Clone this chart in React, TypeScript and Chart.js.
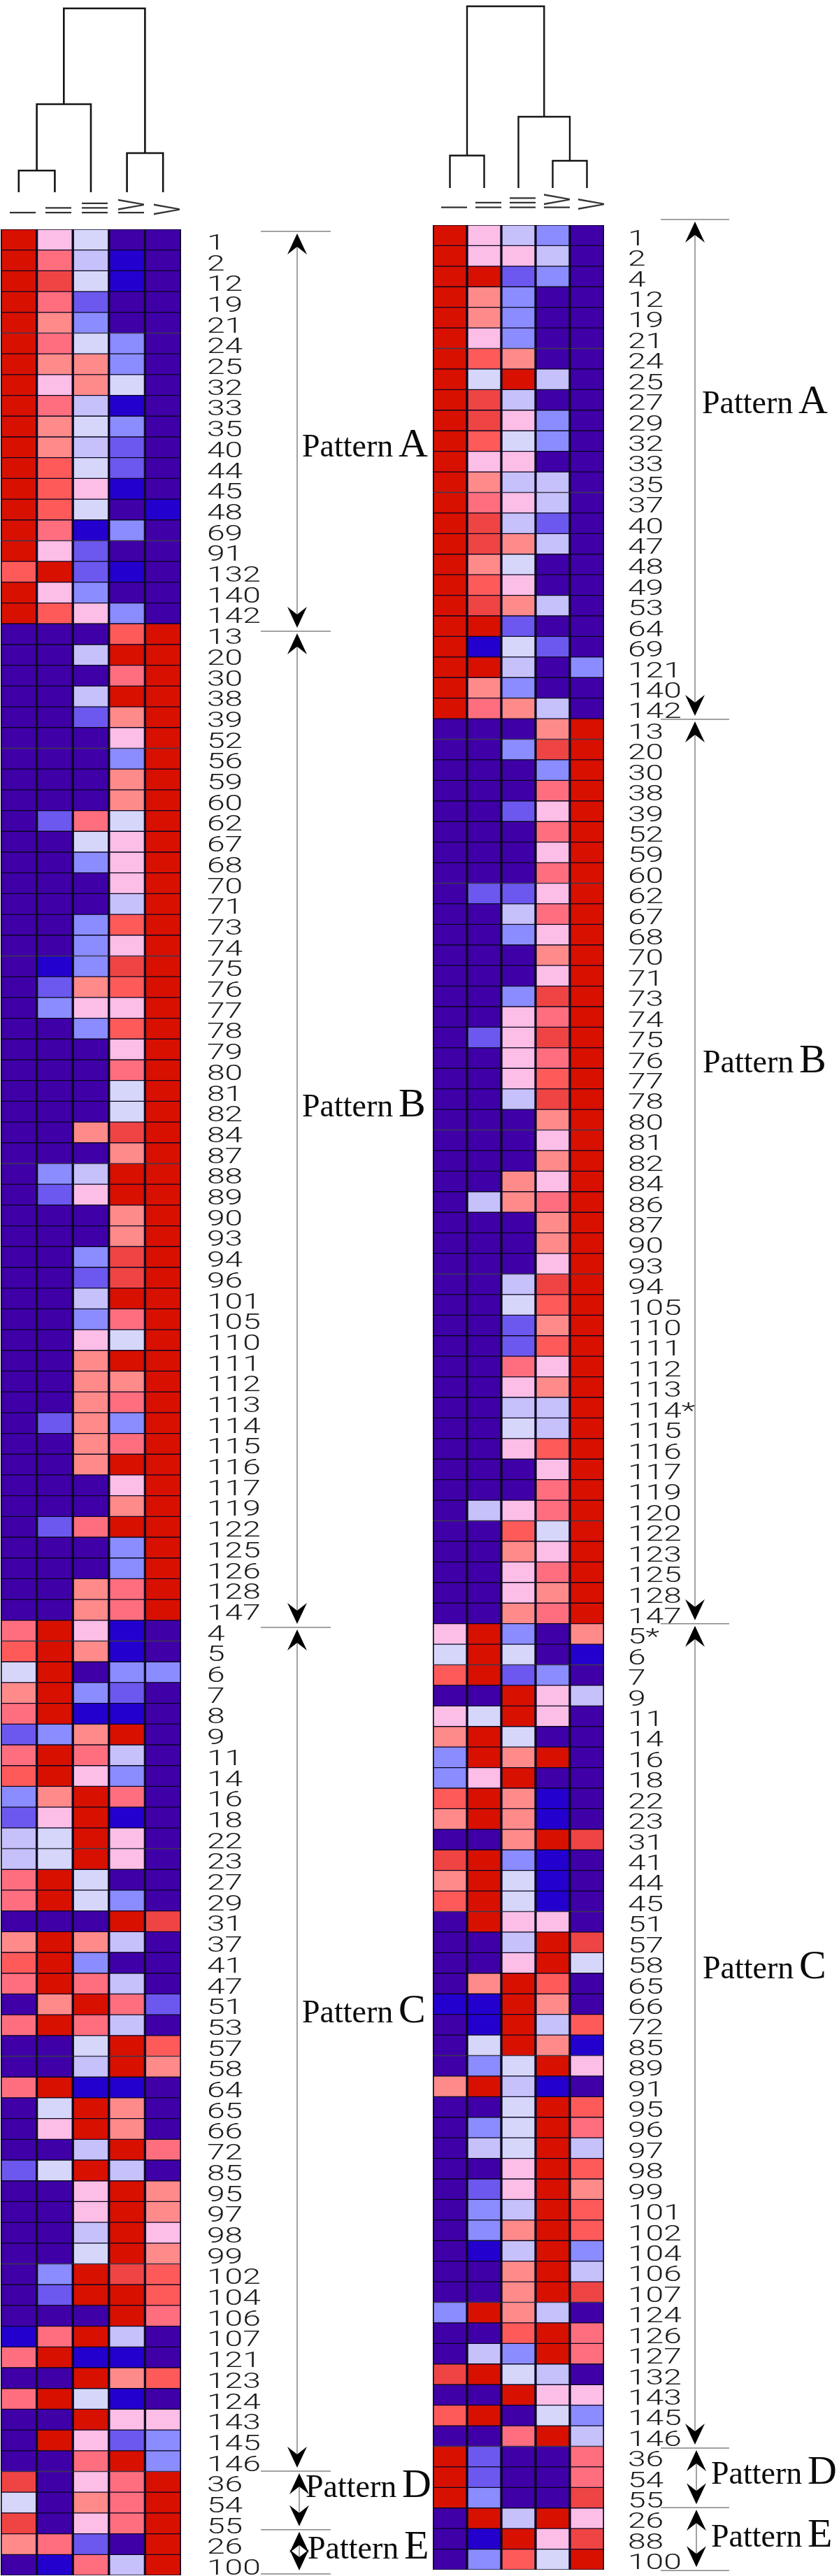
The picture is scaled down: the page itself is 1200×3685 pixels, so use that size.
import React, { useEffect, useRef } from "react";
import { Chart, registerables } from "chart.js";

Chart.register(...registerables);

// colour levels of the heat map, low to high
const P = 0, B = 1, M = 2, L = 3, V = 4, W = 5, K = 6, S = 7, R = 8, O = 9, T = 10, D = 11;
const palette = ["#3f00a8", "#2400cf", "#6c58ee", "#8a8cff", "#c6c0fb", "#d6d6fb", "#fcbde6", "#ff8a8a", "#ff6e7e", "#ff5a5a", "#ef4444", "#d81000"];
const columns = ["I", "II", "III", "IV", "V"];

const leftLabels = ["1","2","12","19","21","24","25","32","33","35","40","44","45","48","69","91","132","140","142",
  "13","20","30","38","39","52","56","59","60","62","67","68","70","71","73","74","75","76","77","78","79","80","81","82","84","87","88","89","90","93","94","96","101","105","110","111","112","113","114","115","116","117","119","122","125","126","128","147",
  "4","5","6","7","8","9","11","14","16","18","22","23","27","29","31","37","41","47","51","53","57","58","64","65","66","72","85","95","97","98","99","102","104","106","107","121","123","124","143","145","146",
  "36","54","55","26","100"];

const leftLevels = [
  [D,K,W,P,P],[D,R,V,B,P],[D,T,W,B,P],[D,R,M,P,P],[D,S,L,P,P],[D,R,W,L,P],[D,S,S,L,P],[D,K,S,W,P],[D,R,V,B,P],[D,S,W,L,P],
  [D,S,V,M,P],[D,O,W,M,P],[D,O,K,B,P],[D,O,W,P,B],[D,R,B,L,P],[D,K,M,P,P],[O,D,M,B,P],[D,K,L,P,P],[D,O,K,L,P],
  [P,P,P,O,D],[P,P,V,D,D],[P,P,P,R,D],[P,P,V,D,D],[P,P,M,S,D],[P,P,P,K,D],[P,P,P,L,D],[P,P,P,S,D],[P,P,P,S,D],[P,M,R,W,D],
  [P,P,W,K,D],[P,P,L,K,D],[P,P,P,K,D],[P,P,P,V,D],[P,P,L,O,D],[P,P,L,K,D],[P,B,L,T,D],[P,M,S,O,D],[P,L,K,K,D],[P,P,L,O,D],
  [P,P,P,K,D],[P,P,P,R,D],[P,P,P,W,D],[P,P,P,W,D],[P,P,S,T,D],[P,P,P,S,D],[P,L,V,D,D],[P,M,K,D,D],[P,P,P,S,D],[P,P,P,S,D],
  [P,P,L,T,D],[P,P,M,T,D],[P,P,V,D,D],[P,P,L,R,D],[P,P,K,W,D],[P,P,S,D,D],[P,P,S,S,D],[P,P,S,R,D],[P,M,S,L,D],[P,P,S,R,D],
  [P,P,S,D,D],[P,P,P,K,D],[P,P,P,S,D],[P,M,R,D,D],[P,P,P,L,D],[P,P,P,L,D],[P,P,S,R,D],[P,P,S,R,D],
  [R,D,K,B,P],[O,D,S,B,P],[W,D,P,L,L],[S,D,L,M,P],[R,D,B,B,P],[M,L,S,D,P],[R,D,R,V,P],[O,D,K,L,P],[L,S,D,R,P],[M,K,D,B,P],
  [V,W,D,K,P],[V,W,D,K,P],[R,D,W,P,P],[R,D,W,L,P],[P,P,P,D,T],[S,D,S,V,P],[O,D,L,P,P],[R,D,R,V,P],[P,S,D,R,M],[R,D,R,V,P],
  [P,P,W,D,O],[P,P,V,D,S],[R,D,B,B,P],[P,W,D,S,P],[P,K,D,S,P],[P,P,V,D,R],[M,W,D,V,P],[P,P,K,D,S],[P,P,K,D,S],[P,P,V,D,K],
  [P,P,W,D,S],[P,L,D,T,O],[P,M,D,D,O],[P,P,P,D,R],[B,R,D,V,P],[R,D,B,B,P],[P,P,D,S,O],[R,D,W,B,P],[P,P,D,K,K],[P,D,K,M,L],[P,P,R,D,L],
  [T,P,K,R,D],[W,P,S,R,D],[T,P,K,R,D],[S,R,M,P,D],[P,B,R,V,D],
];

const rightLabels = ["1","2","4","12","19","21","24","25","27","29","32","33","35","37","40","47","48","49","53","64","69","121","140","142",
  "13","20","30","38","39","52","59","60","62","67","68","70","71","73","74","75","76","77","78","80","81","82","84","86","87","90","93","94","105","110","111","112","113","114*","115","116","117","119","120","122","123","125","128","147",
  "5*","6","7","9","11","14","16","18","22","23","31","41","44","45","51","57","58","65","66","72","85","89","91","95","96","97","98","99","101","102","104","106","107","124","126","127","132","143","145","146",
  "36","54","55","26","88","100"];

const rightLevels = [
  [D,K,V,L,P],[D,K,K,V,P],[D,D,M,L,P],[D,S,L,P,P],[D,S,L,P,P],[D,K,L,P,P],[D,O,S,P,P],[D,W,D,V,P],[D,T,V,P,P],[D,T,K,L,P],
  [D,O,W,L,P],[D,K,K,P,P],[D,S,V,V,P],[D,R,K,V,P],[D,T,V,M,P],[D,T,S,V,P],[D,S,W,P,P],[D,O,K,P,P],[D,T,S,V,P],[D,D,M,P,P],
  [D,B,W,M,P],[D,D,V,P,L],[D,S,L,P,P],[D,R,S,V,P],
  [P,P,P,S,D],[P,P,L,T,D],[P,P,P,L,D],[P,P,P,R,D],[P,P,M,K,D],[P,P,P,R,D],[P,P,P,K,D],[P,P,P,R,D],[P,M,M,K,D],[P,P,V,R,D],
  [P,P,L,K,D],[P,P,P,S,D],[P,P,P,K,D],[P,P,L,T,D],[P,P,K,R,D],[P,M,K,T,D],[P,P,K,R,D],[P,P,K,O,D],[P,P,V,T,D],[P,P,P,S,D],
  [P,P,P,K,D],[P,P,P,S,D],[P,P,S,K,D],[P,V,S,R,D],[P,P,P,S,D],[P,P,P,S,D],[P,P,P,K,D],[P,P,V,T,D],[P,P,W,O,D],[P,P,M,S,D],
  [P,P,M,O,D],[P,P,R,K,D],[P,P,K,S,D],[P,P,V,V,D],[P,P,W,V,D],[P,P,K,O,D],[P,P,P,K,D],[P,P,P,R,D],[P,V,K,R,D],[P,P,O,W,D],
  [P,P,S,K,D],[P,P,K,R,D],[P,P,K,S,D],[P,P,S,R,D],
  [K,D,L,P,S],[W,D,W,P,B],[O,D,M,L,P],[P,P,D,K,V],[K,W,D,K,P],[S,D,W,P,P],[L,D,S,D,P],[L,K,D,P,P],[O,D,S,B,P],[S,D,S,B,P],
  [P,P,S,D,T],[T,D,L,B,P],[S,D,W,B,P],[O,D,W,B,P],[P,D,K,K,P],[P,P,V,D,T],[P,P,K,D,W],[P,S,D,O,P],[B,B,D,S,P],[P,B,D,V,O],
  [P,W,D,S,B],[P,L,W,D,K],[S,D,V,B,P],[P,P,W,D,O],[P,L,W,D,R],[P,V,W,D,V],[P,P,K,D,O],[P,M,K,D,S],[P,L,V,D,O],[P,L,S,D,O],
  [P,B,V,D,L],[P,P,S,D,V],[P,P,S,D,T],[L,D,S,V,P],[P,P,O,D,R],[P,V,L,D,R],[T,D,W,V,P],[P,P,D,K,K],[O,D,P,W,L],[P,P,R,D,V],
  [D,M,P,P,R],[D,M,P,P,R],[D,L,P,P,T],[P,D,V,D,K],[P,B,D,K,T],[P,L,O,W,D],
];

// dendrogram merges: child positions in column units, child heights, merge height
const leftMergeXa = [0, 0.5, 3, 1.25];
const leftMergeXb = [1, 2, 4, 3.5];
const leftMergeHa = [0, 31, 0, 126];
const leftMergeHb = [0, 0, 0, 56];
const leftMergeH = [31, 126, 56, 263];
const rightMergeXa = [0, 3, 2, 0.5];
const rightMergeXb = [1, 4, 3.5, 2.75];
const rightMergeHa = [0, 0, 0, 46.5];
const rightMergeHb = [0, 0, 39, 102];
const rightMergeH = [46.5, 39, 102, 260];

const patternNames = ["A", "B", "C", "D", "E"];
// pattern bracket edges, in rows from the top of each heat map
const leftEdges = [0.1, 19.36, 67.34, 107.98, 110.8, 112.93];
const rightEdges = [-0.27, 24.03, 68.0, 108.09, 110.98, 114.04];

type Side = {
  labels: string[]; levels: number[][];
  xa: number[]; xb: number[]; ha: number[]; hb: number[]; hm: number[];
  edges: number[];
  canvasLeft: number; canvasWidth: number;
  pad: { left: number; right: number; top: number; bottom: number };
  dPad: { left: number; right: number; top: number; bottom: number };
  dMax: number; dWidth: number;
  labelX: number; romanBase: number;
  lineX0: number; lineX1: number; arrowX: number[];
  textX: number[]; textY: number[];
};

const sides: Side[] = [
  {
    labels: leftLabels, levels: leftLevels,
    xa: leftMergeXa, xb: leftMergeXb, ha: leftMergeHa, hb: leftMergeHb, hm: leftMergeH,
    edges: leftEdges, canvasLeft: 0, canvasWidth: 625,
    pad: { left: 1, right: 366, top: 328, bottom: 1 },
    dPad: { left: 1, right: 366, top: 12, bottom: 15 },
    dMax: 263, dWidth: 2.6,
    labelX: 296, romanBase: 307.5,
    lineX0: 373, lineX1: 473, arrowX: [425, 425, 425, 428, 428],
    textX: [432, 432, 432, 437, 440], textY: [653, 1597, 2893, 3572, 3660],
  },
  {
    labels: rightLabels, levels: rightLevels,
    xa: rightMergeXa, xb: rightMergeXb, ha: rightMergeHa, hb: rightMergeHb, hm: rightMergeH,
    edges: rightEdges, canvasLeft: 600, canvasWidth: 600,
    pad: { left: 19, right: 336, top: 322, bottom: 9 },
    dPad: { left: 19, right: 336, top: 9, bottom: 21 },
    dMax: 260, dWidth: 2.4,
    labelX: 298, romanBase: 300,
    lineX0: 345, lineX1: 443, arrowX: [394, 394, 394, 396, 396],
    textX: [404, 405, 405, 417, 417], textY: [591, 1534, 2830, 3553, 3643],
  },
];

function arrowHead(ctx: CanvasRenderingContext2D, x: number, tip: number, dir: number) {
  const w = 14, len = 30, notch = 19;
  ctx.beginPath();
  ctx.moveTo(x, tip);
  ctx.lineTo(x + w, tip + dir * len);
  ctx.lineTo(x, tip + dir * notch);
  ctx.lineTo(x - w, tip + dir * len);
  ctx.closePath();
  ctx.fill();
}

function makeAnnotations(side: Side) {
  return {
    id: "annotations",
    afterDraw(chart: any) {
      const ctx: CanvasRenderingContext2D = chart.ctx;
      const y = chart.scales.y;
      const x = chart.scales.x;

      // row labels
      ctx.save();
      ctx.fillStyle = "#1c1c1c";
      ctx.textAlign = "left";
      ctx.textBaseline = "alphabetic";
      ctx.font = "300 31px Roboto";
      side.labels.forEach((t, i) => {
        ctx.save();
        ctx.translate(side.labelX, y.getPixelForValue(i) + 14);
        ctx.scale(1.49, 1);
        ctx.fillText(t, 0, 0);
        ctx.restore();
      });
      ctx.restore();

      // column labels, turned on their side
      ctx.save();
      ctx.fillStyle = "#333";
      ctx.textAlign = "left";
      ctx.textBaseline = "alphabetic";
      ctx.font = "10px 'Liberation Sans'";
      columns.forEach((t, i) => {
        ctx.save();
        ctx.translate(x.getPixelForValue(i) + 24, side.romanBase);
        ctx.rotate(-Math.PI / 2);
        ctx.scale(2.4, 5.3);
        ctx.fillText(t, 0, 0);
        ctx.restore();
      });
      ctx.restore();

      // pattern brackets
      ctx.save();
      const top = y.top;
      const rowH = (y.bottom - y.top) / side.labels.length;
      const edgePx = side.edges.map((e) => top + e * rowH);
      ctx.strokeStyle = "#858585";
      ctx.lineWidth = 1.5;
      edgePx.forEach((py) => {
        ctx.beginPath();
        ctx.moveTo(side.lineX0, py);
        ctx.lineTo(side.lineX1, py);
        ctx.stroke();
      });
      patternNames.forEach((name, i) => {
        const ax = side.arrowX[i];
        const y0 = edgePx[i] + 3;
        const y1 = edgePx[i + 1] - 5;
        ctx.strokeStyle = "#858585";
        ctx.beginPath();
        ctx.moveTo(ax, y0 + 10);
        ctx.lineTo(ax, y1 - 10);
        ctx.stroke();
        ctx.fillStyle = "#000";
        arrowHead(ctx, ax, y0, 1);
        arrowHead(ctx, ax, y1, -1);
        ctx.fillStyle = "#0a0a0a";
        ctx.textAlign = "left";
        ctx.textBaseline = "alphabetic";
        ctx.font = "46px 'Liberation Serif'";
        ctx.fillText("Pattern", side.textX[i], side.textY[i]);
        ctx.font = "58px 'Liberation Serif'";
        ctx.fillText(name, side.textX[i] + 138, side.textY[i]);
      });
      ctx.restore();
    },
  };
}

function Panel({ side }: { side: Side }) {
  const heatRef = useRef<HTMLCanvasElement>(null);
  const dendroRef = useRef<HTMLCanvasElement>(null);

  useEffect(() => {
    const heat = new Chart(heatRef.current!, {
      type: "bar",
      data: {
        labels: side.labels,
        datasets: columns.map((name, c) => ({
          label: name,
          data: side.levels.map(() => [c - 0.5, c + 0.5]),
          backgroundColor: side.levels.map((row) => palette[row[c]]),
          borderColor: "#0b0620",
          borderWidth: { top: 1, bottom: 1, left: 2, right: 2 },
          borderSkipped: false,
          barPercentage: 1,
          categoryPercentage: 1,
          grouped: false,
        })),
      } as any,
      options: {
        indexAxis: "y",
        animation: false,
        responsive: false,
        maintainAspectRatio: false,
        layout: { padding: side.pad },
        plugins: { legend: { display: false }, tooltip: { enabled: false } },
        scales: {
          x: { type: "linear", min: -0.5, max: 4.5, display: false },
          y: { type: "category", display: false },
        },
      } as any,
      plugins: [makeAnnotations(side)],
    });

    const dendro = new Chart(dendroRef.current!, {
      type: "scatter",
      data: {
        datasets: side.hm.map((h, i) => ({
          data: [
            { x: side.xa[i], y: side.ha[i] },
            { x: side.xa[i], y: h },
            { x: side.xb[i], y: h },
            { x: side.xb[i], y: side.hb[i] },
          ],
          showLine: true,
          borderColor: "#141414",
          borderWidth: side.dWidth,
          pointRadius: 0,
          tension: 0,
          clip: false,
        })),
      } as any,
      options: {
        animation: false,
        responsive: false,
        maintainAspectRatio: false,
        layout: { padding: side.dPad },
        plugins: { legend: { display: false }, tooltip: { enabled: false } },
        scales: {
          x: { type: "linear", min: -0.5, max: 4.5, display: false },
          y: { type: "linear", min: 0, max: side.dMax, display: false },
        },
      } as any,
    });

    return () => {
      heat.destroy();
      dendro.destroy();
    };
  }, [side]);

  return (
    <>
      <canvas ref={heatRef} width={side.canvasWidth} height={3685} style={{ position: "absolute", left: side.canvasLeft, top: 0, display: "block" }} />
      <canvas ref={dendroRef} width={side.canvasWidth} height={290} style={{ position: "absolute", left: side.canvasLeft, top: 0, display: "block" }} />
    </>
  );
}

export default function App() {
  return (
    <div style={{ position: "absolute", left: 0, top: 0, width: 1200, height: 3685, background: "#fff", overflow: "hidden" }}>
      {sides.map((s) => (
        <Panel key={s.canvasLeft} side={s} />
      ))}
    </div>
  );
}
